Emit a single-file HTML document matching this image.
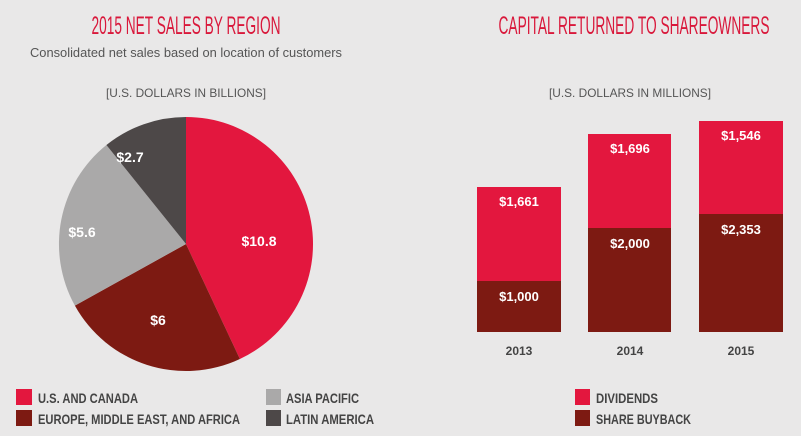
<!DOCTYPE html>
<html><head><style>
body{margin:0;background:#e9e8e8;}
svg{display:block}
.t{font-family:"Liberation Sans Narrow","Liberation Sans",sans-serif;}
</style></head><body>
<svg width="801" height="436" viewBox="0 0 801 436" xmlns="http://www.w3.org/2000/svg">
<rect width="801" height="436" fill="#e9e8e8"/>
<text class="t" x="186" y="34" text-anchor="middle" font-size="25" fill="#d9183b" textLength="189" lengthAdjust="spacingAndGlyphs">2015 NET SALES BY REGION</text>
<text x="186" y="57" text-anchor="middle" font-family="Liberation Sans,sans-serif" font-size="13" fill="#555" textLength="312" lengthAdjust="spacingAndGlyphs">Consolidated net sales based on location of customers</text>
<text x="186" y="97" text-anchor="middle" font-family="Liberation Sans,sans-serif" font-size="12" fill="#555" textLength="160" lengthAdjust="spacingAndGlyphs">[U.S. DOLLARS IN BILLIONS]</text>
<text class="t" x="634" y="34" text-anchor="middle" font-size="25" fill="#d9183b" textLength="271" lengthAdjust="spacingAndGlyphs">CAPITAL RETURNED TO SHAREOWNERS</text>
<text x="630" y="97" text-anchor="middle" font-family="Liberation Sans,sans-serif" font-size="12" fill="#555" textLength="162" lengthAdjust="spacingAndGlyphs">[U.S. DOLLARS IN MILLIONS]</text>

<path d="M186,244 L186,117 A127,127 0 0 1 239.9,359 Z" fill="#e3173e"/>
<path d="M186,244 L239.9,359 A127,127 0 0 1 74.9,305.6 Z" fill="#7d1a12"/>
<path d="M186,244 L74.9,305.6 A127,127 0 0 1 106.4,145 Z" fill="#aaa9a9"/>
<path d="M186,244 L106.4,145 A127,127 0 0 1 186,117 Z" fill="#4d4848"/>
<g font-family="Liberation Sans,sans-serif" font-weight="bold" font-size="14" fill="#fff" text-anchor="middle">
<text x="259" y="246">$10.8</text>
<text x="158" y="325">$6</text>
<text x="82" y="237">$5.6</text>
<text x="130" y="162">$2.7</text>
</g>

<rect x="477" y="187" width="84" height="94" fill="#e3173e"/>
<rect x="477" y="281" width="84" height="51" fill="#7d1a12"/>
<rect x="588" y="134" width="83" height="94" fill="#e3173e"/>
<rect x="588" y="228" width="83" height="104" fill="#7d1a12"/>
<rect x="699" y="121" width="84" height="93" fill="#e3173e"/>
<rect x="699" y="214" width="84" height="118" fill="#7d1a12"/>
<g font-family="Liberation Sans,sans-serif" font-weight="bold" font-size="13" fill="#fff" text-anchor="middle">
<text x="519" y="206">$1,661</text>
<text x="519" y="301">$1,000</text>
<text x="630" y="153">$1,696</text>
<text x="630" y="248">$2,000</text>
<text x="741" y="140">$1,546</text>
<text x="741" y="234">$2,353</text>
</g>
<g font-family="Liberation Sans,sans-serif" font-weight="bold" font-size="12" fill="#444" text-anchor="middle">
<text x="519" y="355">2013</text>
<text x="630" y="355">2014</text>
<text x="741" y="355">2015</text>
</g>

<g class="t" font-size="14" font-weight="bold" fill="#444" lengthAdjust="spacingAndGlyphs">
<rect x="16" y="389" width="16" height="16" fill="#e3173e"/><text x="38" y="403" textLength="100" lengthAdjust="spacingAndGlyphs">U.S. AND CANADA</text>
<rect x="16" y="410" width="16" height="16" fill="#7d1a12"/><text x="38" y="424" textLength="202" lengthAdjust="spacingAndGlyphs">EUROPE, MIDDLE EAST, AND AFRICA</text>
<rect x="266" y="389" width="15" height="16" fill="#aaa9a9"/><text x="286" y="403" textLength="73" lengthAdjust="spacingAndGlyphs">ASIA PACIFIC</text>
<rect x="266" y="410" width="15" height="16" fill="#4d4848"/><text x="286" y="424" textLength="88" lengthAdjust="spacingAndGlyphs">LATIN AMERICA</text>
<rect x="575" y="389" width="15" height="16" fill="#e3173e"/><text x="596" y="403" textLength="62" lengthAdjust="spacingAndGlyphs">DIVIDENDS</text>
<rect x="575" y="410" width="15" height="16" fill="#7d1a12"/><text x="596" y="424" textLength="95" lengthAdjust="spacingAndGlyphs">SHARE BUYBACK</text>
</g>
</svg>
</body></html>
